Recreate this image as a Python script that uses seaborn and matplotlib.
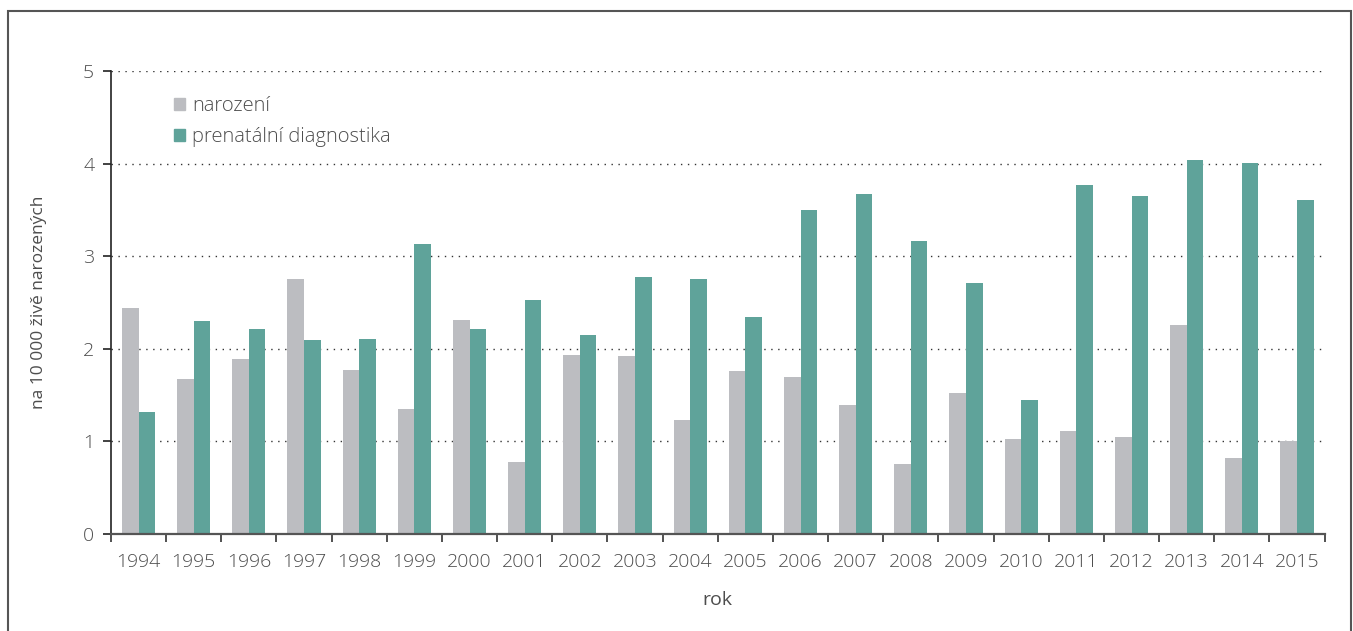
"""vrozené vady - narození vs prenatální diagnostika"""

import pandas as pd
import numpy as np
import matplotlib.pyplot as plt
import matplotlib.patches as mpatches
import seaborn as sns

sns.set_theme(style="white")
plt.rcParams['font.family'] = ['Open Sans', 'DejaVu Sans']
plt.rcParams['font.weight'] = 'light'

years = [str(y) for y in range(1994, 2016)]
narozeni = [2.44, 1.67, 1.89, 2.76, 1.77, 1.35, 2.31, 0.78, 1.93, 1.92, 1.23,
            1.76, 1.70, 1.39, 0.76, 1.52, 1.03, 1.11, 1.05, 2.26, 0.82, 1.00]
prenatalni = [1.32, 2.30, 2.21, 2.10, 2.11, 3.13, 2.21, 2.53, 2.15, 2.78, 2.76,
              2.34, 3.50, 3.67, 3.17, 2.71, 1.45, 3.77, 3.65, 4.04, 4.01, 3.61]
series = ["narození", "prenatální diagnostika"]
colors = ["#bcbdc1", "#5fa39a"]

df = pd.DataFrame({"rok": years * 2,
                   "hodnota": narozeni + prenatalni,
                   "typ": [series[0]] * len(years) + [series[1]] * len(years)})

fig = plt.figure(figsize=(13.53, 6.31), dpi=100)
ax = fig.add_axes([0.082, 0.154, 0.897, 0.733])

sns.barplot(data=df, x="rok", y="hodnota", hue="typ", palette=colors,
            width=0.6, saturation=1, linewidth=0, ax=ax, zorder=3, legend=False)

txt = "#4d4d4d"
ax.set_ylim(0, 5)
ax.set_xlim(-0.5, len(years) - 0.5)
ax.set_yticks([0, 1, 2, 3, 4, 5])
# dotted grid lines (skip zero so the axis stays clean)
for lvl in [1, 2, 3, 4, 5]:
    ax.axhline(lvl, linestyle=(0, (1, 4)), color="#333333", linewidth=1, zorder=1)
ax.tick_params(axis="y", direction="out", length=6, width=1.2, color="#222222",
               labelsize=14, labelcolor=txt, pad=6, left=True)
ax.tick_params(axis="x", which="major", length=0, labelsize=14, labelcolor=txt, pad=14)
ax.set_xticks(np.arange(-0.5, len(years)), minor=True)
ax.tick_params(axis="x", which="minor", direction="out", length=6, width=1.2,
               color="#333333", bottom=True)

for s in ["top", "right"]:
    ax.spines[s].set_visible(False)
ax.spines["left"].set_color("#222222")
ax.spines["left"].set_linewidth(1.2)
ax.spines["bottom"].set_color("#555555")
ax.spines["bottom"].set_linewidth(1.6)
ax.spines["bottom"].set_zorder(5)

ax.set_xlabel("rok", fontsize=14, color=txt, labelpad=14)
ax.set_ylabel("na 10 000 živě narozených", fontsize=12.5, color=txt, labelpad=26)

handles = [mpatches.Patch(color=c, label=l) for c, l in zip(colors, series)]
ax.legend(handles=handles, loc="upper left", bbox_to_anchor=(0.037, 0.985),
          frameon=False, fontsize=14.5, labelcolor=txt, handlelength=0.55,
          handleheight=0.55, handletextpad=0.35, labelspacing=0.55)

fig.patches.append(mpatches.Rectangle((8 / 1353, -0.05), 1343 / 1353, 1.05 - 11 / 631,
                                      transform=fig.transFigure, fill=False,
                                      edgecolor="#555555", linewidth=1.5))

fig.savefig("out.png", dpi=100)
